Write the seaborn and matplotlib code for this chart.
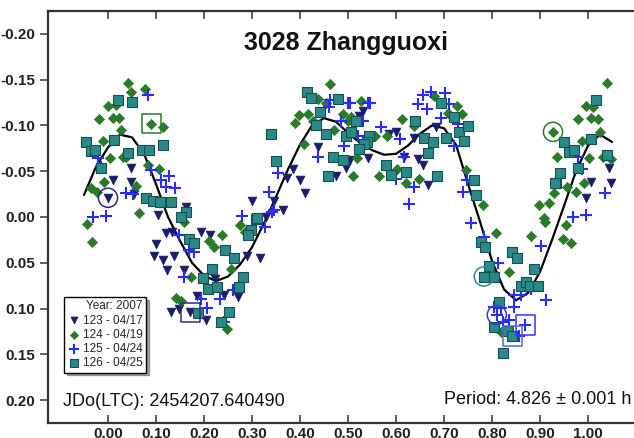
import matplotlib
matplotlib.use("Agg")
import matplotlib.pyplot as plt
import seaborn as sns
import pandas as pd

# Lightcurve of 3028 Zhangguoxi, phased to P = 4.826 h
# (phase, mag) pairs

s123_phase = [0.010, 0.048, 0.048, 0.054, 0.000, 0.104, 0.163, 0.121, 0.133, 0.100, 0.096, 0.115,
              0.138, 0.123, 0.158, 0.194, 0.213, 0.223, 0.242, 0.271, 0.290, 0.317, 0.131, 0.148,
              0.171, 0.204, 0.185, 0.4375, 0.385, 0.373, 0.400, 0.410, 0.475, 0.496, 0.300, 0.346,
              0.365, 0.329, 0.531, 0.523, 0.542, 0.600, 0.585, 0.638, 0.617, 0.646, 0.656, 0.667,
              0.683, 0.504, 0.996, 1.006, 1.048, 1.044]
s123_mag = [-0.040, -0.053, -0.038, -0.025, -0.021, -0.002, -0.011, 0.017, 0.016, 0.030, 0.043, 0.047,
            0.043, 0.058, 0.058, 0.016, 0.020, 0.068, 0.085, 0.087, 0.043, 0.045, 0.104, 0.101,
            0.104, 0.112, 0.086, -0.077, -0.052, -0.043, -0.040, -0.026, -0.045, -0.054, -0.017, -0.018,
            -0.008, 0.000, -0.116, -0.110, -0.064, -0.093, -0.091, -0.086, -0.065, -0.063, -0.057, -0.035,
            -0.098, -0.062, -0.021, -0.038, -0.037, -0.054]

s124_phase = [0.042, 0.048, 0.077, 0.000, 0.017, -0.019, 0.010, 0.023, 0.027, 0.090, 0.115, -0.010,
              0.004, 0.031, 0.038, 0.083, 0.106, -0.008, 0.058, -0.035, -0.023, 0.065, -0.044, -0.033,
              0.142, 0.152, 0.173, 0.210, 0.221, 0.238, 0.256, 0.275, 0.285, 0.248, 0.158,
              0.463, 0.390, 0.398, 0.417, 0.427, 0.4375, 0.454, 0.408, 0.471, 0.490, 0.500,
              0.527, 0.506, 0.612, 0.556, 0.581, 0.519, 0.510, 0.565, 0.602, 0.621, 0.648, 0.638,
              0.679, 0.708, 0.727, 0.738, 0.746, 0.781, 0.808, 0.835, 0.881, 0.898, 0.919, 0.910,
              0.929, 0.954, 0.948, 0.965, 0.956, 0.975, 0.992, 0.819, 1.040, 0.996, 1.010, 0.979,
              1.006, 1.021, 0.927, 1.025, 0.988, 0.935, 1.002, 1.031, 1.048, 0.908]
s124_mag = [-0.146, -0.137, -0.140, -0.121, -0.122, -0.107, -0.108, -0.108, -0.095, -0.102, -0.098, -0.083,
            -0.064, -0.066, -0.065, -0.057, -0.052, -0.038, -0.034, -0.032, -0.027, -0.004, 0.008, 0.027,
            0.089, 0.092, 0.065, 0.026, 0.033, 0.020, 0.057, 0.009, 0.016, 0.122, 0.005,
            -0.145, -0.103, -0.111, -0.113, -0.105, -0.129, -0.125, -0.080, -0.095, -0.113, -0.105,
            -0.127, -0.109, -0.107, -0.089, -0.089, -0.064, -0.045, -0.045, -0.052, -0.037, -0.041, -0.099,
            -0.132, -0.114, -0.121, -0.113, -0.051, -0.013, 0.017, 0.060, 0.021, -0.013, -0.015, 0.005,
            -0.026, 0.009, 0.024, 0.028, -0.033, -0.027, -0.037, 0.126, -0.146, -0.121, -0.120, -0.107,
            -0.108, -0.107, -0.093, -0.093, -0.083, -0.065, -0.064, -0.066, -0.063, 0.001]

s125_phase = [0.083, -0.021, -0.015, 0.090, 0.110, 0.127, 0.121, 0.140, 0.038, 0.052, -0.031, -0.004,
              0.148, 0.169, 0.179, 0.158, 0.194, 0.206, 0.233, 0.260, 0.279, 0.327, 0.342, 0.242,
              0.460, 0.463, 0.500, 0.485, 0.492, 0.4375, 0.354, 0.335, 0.346,
              0.504, 0.546, 0.542, 0.531, 0.521, 0.569, 0.608, 0.617, 0.600, 0.638, 0.627, 0.656,
              0.673, 0.702, 0.646, 0.665, 0.710, 0.694, 0.729, 0.721, 0.740, 0.748,
              0.756, 0.783, 0.812, 0.902, 0.804, 0.819, 0.846, 0.860, 0.846, 0.881, 0.912, 0.810,
              0.823, 0.835, 0.869, 0.856, 0.969, 0.996, 1.035, 0.979, 0.988]
s125_mag = [-0.133, -0.064, -0.055, -0.051, -0.040, -0.045, -0.033, -0.032, -0.026, -0.025, 0.000, -0.001,
            0.020, 0.036, 0.038, 0.065, 0.090, 0.099, 0.090, 0.080, -0.001, 0.011, -0.005, 0.115,
            -0.120, -0.128, -0.125, -0.105, -0.078, -0.065, -0.048, -0.027, -0.008,
            -0.125, -0.125, -0.124, -0.105, -0.089, -0.098, -0.085, -0.066, -0.041, -0.033, -0.014, -0.133,
            -0.136, -0.135, -0.123, -0.118, -0.123, -0.108, -0.102, -0.078, -0.027, -0.040,
            0.007, 0.022, 0.050, 0.032, 0.098, 0.099, 0.085, 0.085, 0.098, 0.079, 0.091, 0.107,
            0.115, 0.112, 0.118, 0.130, 0.000, -0.002, -0.026, -0.065, -0.052]

s126_phase = [0.021, 0.050, -0.046, 0.013, 0.115, -0.035, -0.027, 0.042, 0.071, 0.085, -0.015, 0.079,
              0.094, 0.108, 0.131, 0.163, 0.152, 0.169, 0.179, 0.244, 0.263, 0.217, 0.198, 0.208,
              0.227, 0.281, 0.273, 0.188, 0.252, 0.235, 0.308, 0.298, 0.292,
              0.340, 0.415, 0.423, 0.479, 0.442, 0.433, 0.454, 0.496, 0.350, 0.469, 0.490, 0.458, 0.310,
              0.517, 0.506, 0.544, 0.540, 0.533, 0.523, 0.579, 0.590, 0.621, 0.685, 0.640, 0.658,
              0.677, 0.667, 0.694, 0.721, 0.731, 0.750, 0.742, 0.704, 0.763, 0.767,
              0.777, 0.785, 0.794, 0.783, 0.804, 0.842, 0.852, 0.888, 0.860, 0.871, 0.879, 0.896,
              0.815, 0.804, 0.833, 0.842, 0.823, 0.933, 1.017, 1.006, 0.950, 0.960, 0.971, 1.040,
              0.979, 0.942, 0.931]
s126_mag = [-0.128, -0.126, -0.082, -0.084, -0.079, -0.072, -0.073, -0.070, -0.073, -0.073, -0.053, -0.021,
            -0.018, -0.016, -0.016, -0.005, 0.000, 0.024, 0.028, 0.036, 0.045, 0.057, 0.067, 0.079,
            0.077, 0.066, 0.077, 0.105, 0.104, 0.115, 0.002, 0.014, 0.020,
            -0.091, -0.137, -0.130, -0.129, -0.115, -0.100, -0.091, -0.089, -0.061, -0.065, -0.062, -0.045, 0.001,
            -0.105, -0.093, -0.089, -0.082, -0.080, -0.074, -0.057, -0.046, -0.049, -0.045, -0.105, -0.086,
            -0.082, -0.070, -0.124, -0.109, -0.093, -0.099, -0.083, -0.086, -0.040, -0.024,
            0.027, 0.033, 0.054, 0.065, 0.065, 0.038, 0.045, 0.057, 0.075, 0.071, 0.075, 0.075,
            0.093, 0.120, 0.125, 0.130, 0.148, -0.037, -0.128, -0.085, -0.082, -0.071, -0.073, -0.068,
            -0.054, -0.048, -0.037]

# highlighted (circled / boxed) observations
hl_phase = [0.000, 0.090, 0.171, 0.783, 0.810, 0.869, 0.842, 0.927]
hl_mag = [-0.021, -0.102, 0.104, 0.065, 0.107, 0.118, 0.130, -0.093]
hl_shape = ["o", "s", "s", "o", "o", "s", "s", "o"]
hl_color = ["#2a2a80", "#2a7a2a", "#2a2a80", "#2a8a88", "#3333ff", "#3333ff", "#5566dd", "#2a7a2a"]

# Fourier fit curve
fit_phase = [-0.05, -0.025, 0.0, 0.025, 0.05, 0.075, 0.1, 0.125, 0.15, 0.175, 0.2, 0.225, 0.25,
             0.275, 0.3, 0.325, 0.35, 0.375, 0.4, 0.425, 0.45, 0.475, 0.5, 0.525, 0.55, 0.575,
             0.6, 0.625, 0.65, 0.675, 0.7, 0.725, 0.75, 0.775, 0.8, 0.825, 0.85, 0.875, 0.9,
             0.925, 0.95, 0.975, 1.0, 1.025, 1.05]
fit_mag = [-0.024, -0.055, -0.076, -0.090, -0.087, -0.069, -0.036, 0.000, 0.026, 0.050, 0.064,
           0.070, 0.065, 0.052, 0.033, 0.007, -0.022, -0.052, -0.079, -0.100, -0.108, -0.104,
           -0.092, -0.081, -0.073, -0.068, -0.069, -0.078, -0.091, -0.100, -0.097, -0.079,
           -0.036, 0.005, 0.048, 0.079, 0.091, 0.083, 0.060, 0.025, -0.012, -0.050, -0.078,
           -0.090, -0.082]

yticks = [-0.20, -0.15, -0.10, -0.05, 0.00, 0.05, 0.10, 0.15, 0.20]
xticks = [0.0, 0.1, 0.2, 0.3, 0.4, 0.5, 0.6, 0.7, 0.8, 0.9, 1.0]

sns.set_style("ticks")
plt.rcParams["font.family"] = ["Liberation Sans", "DejaVu Sans"]
plt.rcParams["axes.unicode_minus"] = False

fig = plt.figure(figsize=(6.34, 4.38), dpi=100)
ax = fig.add_axes([48 / 634, 15 / 438, 600 / 634, 412 / 438])

sns.lineplot(x=fit_phase, y=fit_mag, color="black", lw=1.6, ax=ax, sort=False, estimator=None)

sns.scatterplot(x=s123_phase, y=s123_mag, marker="v", s=40, color="#1b1c6a", edgecolor="#1b1c6a",
                linewidth=0.5, ax=ax, label="123 - 04/17", zorder=3)
sns.scatterplot(x=s124_phase, y=s124_mag, marker="D", s=27, color="#2a7a2a", edgecolor="#2a7a2a",
                linewidth=0.5, ax=ax, label="124 - 04/19", zorder=3)
sns.scatterplot(x=s125_phase, y=s125_mag, marker="+", s=75, color="#2b2bff", linewidth=1.5,
                ax=ax, label="125 - 04/24", zorder=3)
sns.scatterplot(x=s126_phase, y=s126_mag, marker="s", s=42, color="#2a8a88", edgecolor="#174f55",
                linewidth=0.8, ax=ax, label="126 - 04/25", zorder=3)

for px, py, mk, c in zip(hl_phase, hl_mag, hl_shape, hl_color):
    ax.scatter([px], [py], marker=mk, s=190, facecolors="none", edgecolors=c, linewidths=1.1, zorder=4)

ax.set_xlim(-0.125, 1.125)
ax.set_ylim(0.225, -0.225)
ax.set_xticks(xticks)
ax.set_yticks(yticks)
ax.set_xticklabels([f"{v:.2f}" for v in xticks], fontsize=11, fontweight="bold")
ax.set_yticklabels([f"{v:.2f}" for v in yticks], fontsize=11, fontweight="bold")
ax.tick_params(axis="x", direction="in", top=True, length=6, width=1.2, pad=3, colors="#444444",
               labelcolor="#222222")
ax.tick_params(axis="y", direction="out", length=6, width=1.2, colors="#444444", labelcolor="#222222")
ax.set_xlabel("")
ax.set_ylabel("")
for sp in ax.spines.values():
    sp.set_linewidth(1.6)
    sp.set_color("#333333")

ax.text(0.497, 0.922, "3028 Zhangguoxi", transform=ax.transAxes, ha="center", va="center",
        fontsize=18, fontweight="bold", color="#111111")
ax.text(0.025, 0.053, "JDo(LTC): 2454207.640490", transform=ax.transAxes, ha="left", va="center",
        fontsize=13, color="#111111")
ax.text(0.972, 0.058, "Period: 4.826 \u00b1 0.001 h", transform=ax.transAxes, ha="right", va="center",
        fontsize=13, color="#111111")

leg = ax.legend(loc="upper left", bbox_to_anchor=(0.027, 0.306), borderaxespad=0,
                title="Year: 2007", title_fontsize=8.5, fontsize=8.5, frameon=True, fancybox=False,
                shadow=True, markerscale=0.8, handletextpad=0.3, handlelength=1.0,
                labelspacing=0.18, borderpad=0.3, alignment="right")
leg.get_frame().set_edgecolor("black")
leg.get_frame().set_linewidth(1.0)

fig.savefig("out.png", dpi=100)
